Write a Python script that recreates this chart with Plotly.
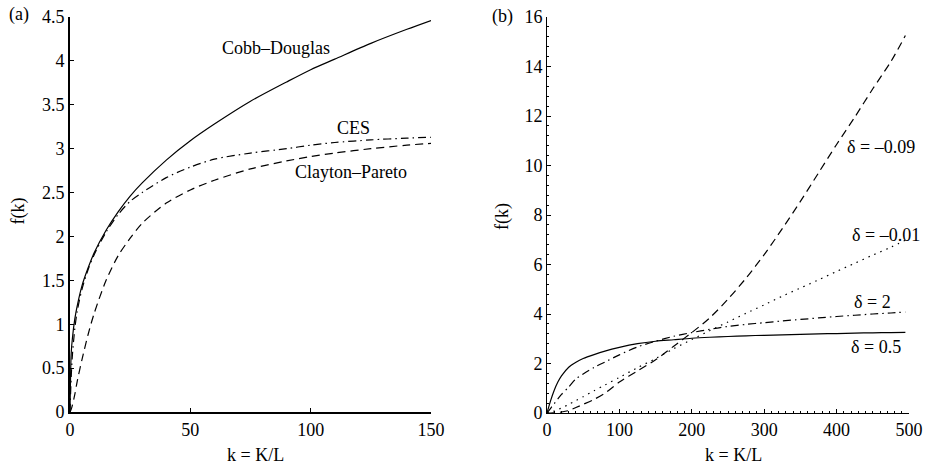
import plotly.graph_objects as go

# ---- Panel (a) data ----
k_a = [0, 0.5, 1, 2, 3, 5, 7.5, 10, 15, 20, 25, 30, 40, 50, 60, 75, 90, 100, 110, 125, 140, 150]
cobb_douglas = [0, 0.67, 0.84, 1.06, 1.21, 1.44, 1.64, 1.81, 2.07, 2.28, 2.46, 2.61, 2.87, 3.09, 3.28, 3.54, 3.76, 3.90, 4.02, 4.20, 4.36, 4.46]
ces = [0, 0.40, 0.65, 0.95, 1.15, 1.40, 1.62, 1.79, 2.05, 2.25, 2.40, 2.50, 2.67, 2.79, 2.88, 2.95, 3.00, 3.04, 3.07, 3.10, 3.12, 3.13]
clayton_pareto = [0, 0.03, 0.08, 0.20, 0.35, 0.60, 0.88, 1.12, 1.50, 1.78, 1.98, 2.15, 2.38, 2.53, 2.64, 2.77, 2.86, 2.91, 2.95, 3.00, 3.04, 3.06]

# ---- Panel (b) data ----
k_b = [0, 5, 10, 15, 20, 30, 40, 50, 65, 80, 100, 125, 150, 175, 200, 225, 250, 275, 300, 325, 350, 375, 400, 425, 450, 475, 495]
delta_m009 = [0, 0.0, 0.01, 0.02, 0.04, 0.10, 0.22, 0.35, 0.55, 0.80, 1.25, 1.70, 2.15, 2.70, 3.25, 3.85, 4.60, 5.45, 6.40, 7.45, 8.55, 9.70, 10.85, 11.95, 13.10, 14.20, 15.25]
delta_m001 = [0, 0.04, 0.08, 0.14, 0.20, 0.35, 0.50, 0.66, 0.90, 1.13, 1.44, 1.83, 2.20, 2.60, 2.97, 3.33, 3.68, 4.03, 4.37, 4.72, 5.05, 5.38, 5.72, 6.05, 6.38, 6.70, 6.98]
delta_2 = [0, 0.19, 0.38, 0.57, 0.75, 1.05, 1.38, 1.58, 1.84, 2.06, 2.35, 2.67, 2.90, 3.10, 3.25, 3.38, 3.50, 3.58, 3.65, 3.72, 3.78, 3.84, 3.90, 3.95, 4.00, 4.04, 4.08]
delta_05 = [0, 0.50, 0.92, 1.25, 1.50, 1.85, 2.05, 2.20, 2.36, 2.50, 2.65, 2.80, 2.90, 2.96, 3.02, 3.06, 3.09, 3.12, 3.14, 3.16, 3.18, 3.20, 3.21, 3.23, 3.24, 3.25, 3.26]

a_xticks = [0, 50, 100, 150]
a_yticks = [0, 0.5, 1, 1.5, 2, 2.5, 3, 3.5, 4, 4.5]
a_yticklabels = ["0", "0.5", "1", "1.5", "2", "2.5", "3", "3.5", "4", "4.5"]
b_xticks = [0, 100, 200, 300, 400, 500]
b_yticks = [0, 2, 4, 6, 8, 10, 12, 14, 16]

FONT = "Liberation Serif"
BLACK = "#000000"
DASH = "8px,5px"
DASHDOT = "8px,4px,1.5px,4px"
DOT = "1.5px,5px"

W, H = 927, 466

def fx(px):
    return px / W

def fy(py):
    return 1 - py / H

fig = go.Figure()

def line(x, y, dash, xa, ya, w=1.2):
    fig.add_trace(go.Scatter(x=x, y=y, mode="lines", xaxis=xa, yaxis=ya,
                             line=dict(color=BLACK, width=w, dash=dash, shape="spline", smoothing=0.8),
                             showlegend=False, hoverinfo="skip"))

line(k_a, cobb_douglas, "solid", "x", "y")
line(k_a, ces, DASHDOT, "x", "y")
line(k_a, clayton_pareto, DASH, "x", "y")

line(k_b, delta_m009, DASH, "x2", "y2")
line(k_b, delta_m001, DOT, "x2", "y2")
line(k_b, delta_2, DASHDOT, "x2", "y2")
line(k_b, delta_05, "solid", "x2", "y2")

tickfont = dict(family=FONT, size=18, color=BLACK)
common_axis = dict(showgrid=False, zeroline=False, showline=True, linecolor=BLACK,
                   ticks="inside", tickcolor=BLACK, tickfont=tickfont, mirror=False,
                   automargin=False, ticklabeloverflow="allow")

fig.update_layout(
    width=W, height=H,
    margin=dict(l=0, r=0, t=0, b=0, autoexpand=False),
    paper_bgcolor="white", plot_bgcolor="white",
    font=dict(family=FONT, color=BLACK, size=18),
    xaxis=dict(domain=[fx(70), fx(431)], range=[0, 150], tickvals=a_xticks, linewidth=2,
               ticklen=4, tickwidth=1, anchor="y", **common_axis),
    yaxis=dict(domain=[fy(412), fy(17)], range=[0, 4.5], tickvals=a_yticks, ticktext=a_yticklabels,
               linewidth=2, ticklen=4, tickwidth=1, anchor="x", **common_axis),
    xaxis2=dict(domain=[fx(547), fx(909)], range=[0, 500], tickvals=b_xticks, linewidth=1,
                ticklen=4, tickwidth=1, anchor="y2",
                minor=dict(dtick=10, ticks="inside", ticklen=2, tickcolor=BLACK, tickwidth=0.7),
                **common_axis),
    yaxis2=dict(domain=[fy(413), fy(17)], range=[0, 16], tickvals=b_yticks, linewidth=1,
                ticklen=4, tickwidth=1, anchor="x2",
                minor=dict(dtick=0.4, ticks="inside", ticklen=2, tickcolor=BLACK, tickwidth=0.7),
                **common_axis),
)

ann_font = dict(family=FONT, size=18, color=BLACK)
labels = [
    ("x", "y", 85.6, 4.15, "Cobb–Douglas"),
    ("x", "y", 117.6, 3.23, "CES"),
    ("x", "y", 116.7, 2.73, "Clayton–Pareto"),
    ("x2", "y2", 461, 10.75, "δ = –0.09"),
    ("x2", "y2", 468, 7.19, "δ = –0.01"),
    ("x2", "y2", 450, 4.48, "δ = 2"),
    ("x2", "y2", 455, 2.67, "δ = 0.5"),
]
for xr, yr, x, y, t in labels:
    fig.add_annotation(x=x, y=y, xref=xr, yref=yr, text=t, showarrow=False,
                       font=ann_font, xanchor="center", yanchor="middle")

def paper_text(px, py, text, angle=0):
    fig.add_annotation(x=fx(px), y=fy(py), xref="paper", yref="paper", text=text,
                       showarrow=False, font=ann_font, xanchor="center", yanchor="middle",
                       textangle=angle)

paper_text(19, 15, "(a)")
paper_text(502, 17, "(b)")
paper_text(256, 455, "k = K/L")
paper_text(733, 455, "k = K/L")
paper_text(18.5, 211, "f(k)", -90)
paper_text(502, 217, "f(k)", -90)

fig.write_html(
    "out.html",
    config={"displayModeBar": False},
    post_script="document.body.style.margin='0px';document.body.style.overflow='hidden';",
)
